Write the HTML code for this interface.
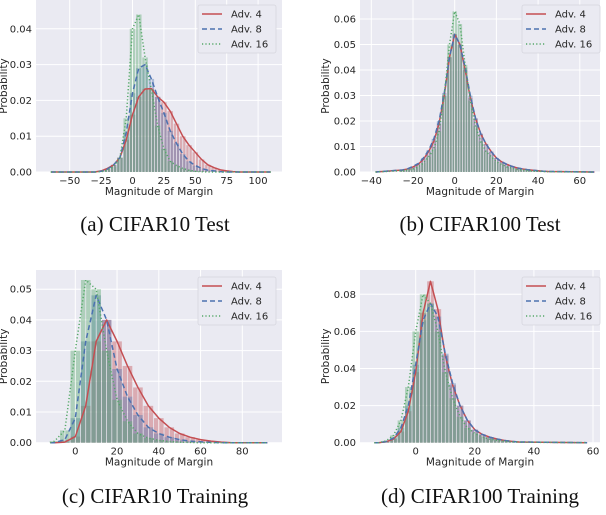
<!DOCTYPE html>
<html><head><meta charset="utf-8"><style>
body{margin:0;background:#fff}
svg text{font-family:"DejaVu Sans","Liberation Sans",sans-serif}
svg text.cap{font-family:"Liberation Serif",serif}
</style></head><body>
<svg id="fig" width="606" height="510" viewBox="0 0 606 510" xmlns="http://www.w3.org/2000/svg"></svg>
<script>
// ---- data ----
const aX=[-30,-25,-20,-15,-10,-5,0,5,10,15,20,25,30,35,40,45,50,55,60,65,70,75,80,85];
const aRed=[0,.0003,.001,.002,.004,.009,.016,.021,.0232,.0233,.021,.0195,.017,.0135,.010,.0075,.0055,.0035,.002,.0012,.0006,.0003,.0001,0];
const aBlue=[0,.0002,.0008,.002,.004,.011,.022,.029,.030,.026,.021,.0165,.0115,.008,.005,.003,.0018,.001,.0005,.0003,.0001,0,0,0];
const aGreen=[0,.0001,.0005,.0015,.004,.015,.04,.044,.032,.023,.013,.0065,.003,.0018,.001,.0005,.0002,.0001,0,0,0,0,0,0];
const aXTicks=[-50,-25,0,25,50,75,100];
const aYTicks=[0,0.01,0.02,0.03,0.04];

const bX=[-25,-22.5,-20,-17.5,-15,-12.5,-10,-7.5,-5,-2.5,0,2.5,5,7.5,10,12.5,15,17.5,20,22.5,25,27.5,30,32.5,35,37.5,40,42.5,45];
const bRed=[.0008,.0012,.002,.003,.005,.008,.012,.019,.03,.045,.054,.05,.04,.029,.021,.015,.011,.008,.0055,.004,.003,.0022,.0016,.0012,.0009,.0007,.0005,.0003,.0002];
const bBlue=[.0008,.0013,.0022,.0033,.0055,.0085,.013,.02,.031,.045,.054,.05,.041,.030,.021,.015,.011,.008,.0055,.004,.003,.0022,.0016,.0012,.0009,.0007,.0005,.0003,.0002];
const bGreen=[.0005,.0008,.0012,.002,.0035,.006,.009,.016,.03,.05,.063,.058,.042,.028,.018,.012,.008,.006,.004,.003,.002,.0015,.001,.0008,.0006,.0004,.0003,.0002,.0001];
const bXTicks=[-40,-20,0,20,40,60];
const bYTicks=[0,0.01,0.02,0.03,0.04,0.05,0.06];

const cX=[-10,-5,0,5,10,15,20,25,30,35,40,45,50,55,60,65,70,75];
const cRed=[0,.0002,.002,.012,.033,.040,.033,.025,.018,.012,.008,.005,.003,.0018,.001,.0005,.0002,0];
const cBlue=[0,.001,.008,.033,.048,.040,.024,.015,.009,.005,.003,.0018,.001,.0005,.0003,.0001,0,0];
const cGreen=[.0005,.004,.03,.053,.050,.030,.014,.007,.003,.0015,.0008,.0004,.0002,.0001,0,0,0,0];
const cXTicks=[0,20,40,60,80];
const cYTicks=[0,0.01,0.02,0.03,0.04,0.05];

const dX=[-12.5,-10,-7.5,-5,-2.5,0,2.5,5,7.5,10,12.5,15,17.5,20,22.5,25,27.5,30,32.5,35];
const dRed=[0,.0005,.002,.006,.017,.038,.07,.087,.072,.047,.031,.02,.012,.007,.0045,.003,.002,.0012,.0007,.0004];
const dBlue=[0,.0006,.0025,.008,.02,.042,.066,.075,.068,.048,.032,.02,.012,.007,.0045,.003,.002,.0012,.0007,.0004];
const dGreen=[0,.001,.004,.012,.03,.06,.08,.075,.06,.038,.024,.014,.008,.005,.003,.002,.0013,.0008,.0005,.0003];
const dXTicks=[0,20,40,60];
const dYTicks=[0,0.02,0.04,0.06,0.08];

const NS="http://www.w3.org/2000/svg";
const svg=document.getElementById('fig');
function mk(tag,attrs,parent){const e=document.createElementNS(NS,tag);for(const k in attrs)e.setAttribute(k,attrs[k]);(parent||svg).appendChild(e);return e;}

const COL={red:'#C44E52',blue:'#4C72B0',green:'#55A868'};

function panel(p){
  const g=mk('g',{});
  
  
  const sx=v=>p.x0px+(v-p.x0v)*p.xs;
  const sy=v=>p.y0px-v*p.ys;
  const bg=mk('rect',{x:p.L,y:p.T,width:p.R-p.L,height:p.B-p.T,fill:'#EAEAF2'},g);
  
  
  p.xt.forEach(t=>{const X=sx(t);
    const l=mk('line',{x1:X,x2:X,y1:p.T,y2:p.B,stroke:'#fff','stroke-width':1},g);
    
    const tx=mk('text',{x:X,y:p.B+12,'font-size':10,'text-anchor':'middle',fill:'#262626'},g);
    tx.textContent=t<0?'\u2212'+(-t):String(t);
    });
  p.yt.forEach(t=>{const Y=sy(t);
    const l=mk('line',{x1:p.L,x2:p.R,y1:Y,y2:Y,stroke:'#fff','stroke-width':1},g);
    
    const tx=mk('text',{x:p.L-4,y:Y+3.5,'font-size':10,'text-anchor':'end',fill:'#262626'},g);
    tx.textContent=t.toFixed(2);
    });
  const series=[['red',p.r],['blue',p.b],['green',p.g]];
  const step=p.X[1]-p.X[0];
  series.forEach(([c,vals])=>{
    vals.forEach((v,i)=>{
      for(let h=0;h<2;h++){
        const a=p.X[i]-step/2+h*step/2;
        const x1=sx(a)+0.4,x2=sx(a+step/2)-0.4;
        const r=mk('rect',{x:x1,y:sy(v),width:Math.max(0,x2-x1),height:p.B-sy(v),fill:COL[c],'fill-opacity':0.4},g);
        
      }
    });
  });
  const dash={red:'',blue:'5,3',green:'1.2,2.2'};
  series.forEach(([c,vals])=>{
    let pts=[[sx(p.lx[0]),sy(0)]];
    vals.forEach((v,i)=>pts.push([sx(p.X[i]),sy(v)]));
    pts.push([sx(p.lx[1]),sy(0)]);
    const pl=mk('polyline',{points:pts.map(q=>q.join(',')).join(' '),fill:'none',stroke:COL[c],'stroke-width':1.5,'stroke-dasharray':dash[c],'stroke-linejoin':'round'},g);
    
  });
  const xl=mk('text',{x:(p.L+p.R)/2,y:p.B+23,'font-size':10.5,'text-anchor':'middle',fill:'#262626'},g);
  xl.textContent='Magnitude of Margin';
  
  const yl=mk('text',{x:0,y:0,'font-size':10.5,'text-anchor':'middle',fill:'#262626',transform:`translate(${p.yl},${(p.T+p.B)/2}) rotate(-90)`},g);
  yl.textContent='Probability';
  
  const lg=mk('g',{},g);
  
  mk('rect',{x:p.lgx,y:p.lgy,width:78,height:48,fill:'#EAEAF2',stroke:'#d6d6de','stroke-width':0.8,rx:2},lg);
  [['red','Adv. 4'],['blue','Adv. 8'],['green','Adv. 16']].forEach(([c,t],i)=>{
    const yy=p.lgy+9+i*15;
    const ln=mk('line',{x1:p.lgx+4,x2:p.lgx+24,y1:yy,y2:yy,stroke:COL[c],'stroke-width':1.5,'stroke-dasharray':dash[c]},lg);
    
    const tx=mk('text',{x:p.lgx+33,y:yy+3.5,'font-size':10,fill:'#262626'},lg);
    tx.textContent=t;
    
  });
  const cap=mk('text',{x:p.capx,y:p.capy,'font-size':21,'text-anchor':'middle',fill:'#111','class':'cap'},g);
  cap.textContent=p.cap;
  
}

panel({name:'cifar10-test-chart',L:36,R:282,T:0,B:172,x0v:0,x0px:132.5,xs:31.4/25,y0px:172,ys:3580,
  X:aX,r:aRed,b:aBlue,g:aGreen,xt:aXTicks,yt:aYTicks,lx:[-65,110],yl:7,lgx:198,lgy:5,cap:'(a) CIFAR10 Test',capx:155,capy:231});
panel({name:'cifar100-test-chart',L:360,R:600,T:0,B:172,x0v:0,x0px:454.7,xs:41.7/20,y0px:172,ys:2550,
  X:bX,r:bRed,b:bBlue,g:bGreen,xt:bXTicks,yt:bYTicks,lx:[-38,67],yl:329,lgx:522,lgy:5,cap:'(b) CIFAR100 Test',capx:480,capy:231});
panel({name:'cifar10-training-chart',L:36,R:282,T:270,B:442.7,x0v:0,x0px:75.3,xs:41.75/20,y0px:442.7,ys:3070,
  X:cX,r:cRed,b:cBlue,g:cGreen,xt:cXTicks,yt:cYTicks,lx:[-12,92],yl:7,lgx:198,lgy:277,cap:'(c) CIFAR10 Training',capx:155,capy:503});
panel({name:'cifar100-training-chart',L:360,R:600,T:270,B:442.7,x0v:0,x0px:415.7,xs:59.1/20,y0px:442.7,ys:1855,
  X:dX,r:dRed,b:dBlue,g:dGreen,xt:dXTicks,yt:dYTicks,lx:[-14,58],yl:329,lgx:522,lgy:277,cap:'(d) CIFAR100 Training',capx:480,capy:503});
</script>
</body></html>
